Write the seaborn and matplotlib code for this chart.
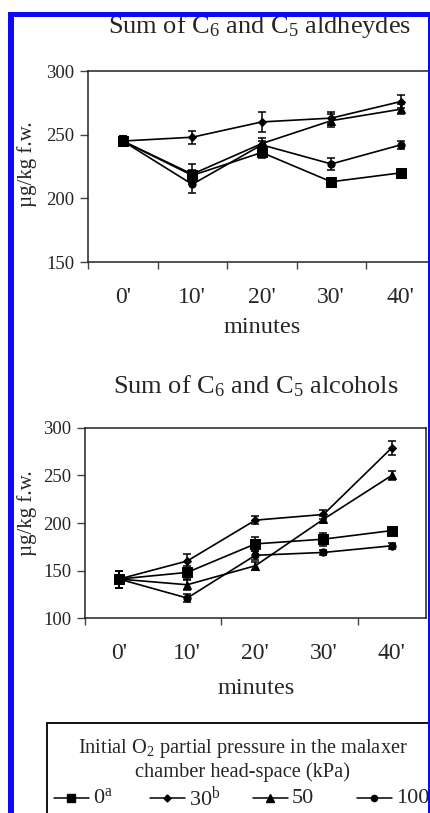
import numpy as np
import pandas as pd
import matplotlib
matplotlib.use("Agg")
import matplotlib.pyplot as plt
from matplotlib.patches import Rectangle
from matplotlib.lines import Line2D
import seaborn as sns

# ---------------- data ----------------
minutes = ["0'", "10'", "20'", "30'", "40'"]
series = ["0", "30", "50", "100"]
series_labels = [r"0$^{\rm a}$", r"30$^{\rm b}$", "50", "100"]

ald_0 = [245, 218, 236, 213, 220]
ald_30 = [245, 248, 260, 263, 276]
ald_50 = [245, 219, 243, 261, 270]
ald_100 = [245, 211, 242, 227, 242]
ald_err_0 = [4, 4, 4, 2, 3]
ald_err_30 = [4, 5, 8, 5, 5]
ald_err_50 = [4, 8, 4, 5, 4]
ald_err_100 = [4, 7, 3, 5, 3]

alc_0 = [141, 148, 178, 183, 192]
alc_30 = [141, 160, 203, 209, 279]
alc_50 = [141, 135, 155, 204, 250]
alc_100 = [141, 121, 166, 169, 176]
alc_err_0 = [9, 7, 7, 7, 3]
alc_err_30 = [9, 7, 4, 5, 7]
alc_err_50 = [9, 5, 4, 3, 5]
alc_err_100 = [9, 4, 5, 3, 3]

ald_vals = [ald_0, ald_30, ald_50, ald_100]
ald_errs = [ald_err_0, ald_err_30, ald_err_50, ald_err_100]
alc_vals = [alc_0, alc_30, alc_50, alc_100]
alc_errs = [alc_err_0, alc_err_30, alc_err_50, alc_err_100]

# ---------------- style ----------------
sns.set_theme(style="white")
plt.rcParams['font.family'] = ['Liberation Serif', 'DejaVu Serif']
plt.rcParams['mathtext.fontset'] = 'custom'
plt.rcParams['mathtext.rm'] = 'Liberation Serif'
plt.rcParams['mathtext.it'] = 'Liberation Serif:italic'
plt.rcParams['mathtext.bf'] = 'Liberation Serif:bold'

markers = {"0": "s", "30": "D", "50": "^", "100": "o"}
msizes = {"0": 7.0, "30": 4.2, "50": 6.2, "100": 5.2}

W, H = 431, 813
fig = plt.figure(figsize=(W / 100, H / 100), dpi=100)


def fx(px):
    return px / W


def fy(py):
    return 1 - py / H


def make_df(vals):
    rows = []
    for s, v in zip(series, vals):
        for i, val in enumerate(v):
            rows.append({"x": i, "val": val, "series": s})
    return pd.DataFrame(rows)


def draw(ax, vals, errs):
    df = make_df(vals)
    sns.lineplot(data=df, x="x", y="val", style="series", style_order=series,
                 markers=markers, dashes=False, color="black", linewidth=1.2,
                 ax=ax, legend=False, markeredgecolor="black")
    for line, s in zip(ax.lines, series):
        line.set_markersize(msizes[s])
        line.set_markerfacecolor("black")
    for v, e in zip(vals, errs):
        ax.errorbar(range(len(v)), v, yerr=e, fmt="none", ecolor="black",
                    elinewidth=1.1, capsize=3.2, capthick=1.1)


# ---------------- top axes ----------------
ax1 = fig.add_axes([fx(88), fy(262), 347.5 / W, 191 / H])
ax1.set_facecolor("none")
draw(ax1, ald_vals, ald_errs)
ax1.set_xlim(-0.5, 4.5)
ax1.set_ylim(150, 300)
ax1.set_yticks([150, 200, 250, 300])
ax1.set_xticks(range(5))
ax1.set_xticklabels(minutes, fontsize=17)
ax1.set_xticks(np.arange(-0.5, 5, 1.0), minor=True)
ax1.spines['right'].set_visible(False)

# ---------------- bottom axes ----------------
ax2 = fig.add_axes([fx(85), fy(618), 340.7 / W, 190 / H])
ax2.set_facecolor("none")
draw(ax2, alc_vals, alc_errs)
ax2.set_xlim(-0.5, 4.5)
ax2.set_ylim(100, 300)
ax2.set_yticks([100, 150, 200, 250, 300])
ax2.set_xticks(range(5))
ax2.set_xticklabels(minutes, fontsize=17)
ax2.set_xticks([-0.5, 1.5, 3.5], minor=True)

for ax in (ax1, ax2):
    ax.set_xlabel("")
    ax.set_ylabel("")
    for sp in ax.spines.values():
        sp.set_color("#222222")
        sp.set_linewidth(1.1)
    ax.tick_params(axis="x", which="major", length=0, pad=18)
    ax.tick_params(axis="x", which="minor", length=5, width=1, color="#444444",
                   direction="out", bottom=True)
    ax.tick_params(axis="y", which="major", length=6, width=1, color="#444444",
                   direction="out", left=True, labelsize=13.5, pad=4)
    ax.grid(False)

# ---------------- texts ----------------
fig.text(fx(260), fy(33), r"Sum of C$_6$ and C$_5$ aldheydes", ha="center",
         va="baseline", fontsize=19)
fig.text(fx(256), fy(393), r"Sum of C$_6$ and C$_5$ alcohols", ha="center",
         va="baseline", fontsize=19)
fig.text(fx(262), fy(327), "minutes", ha="center", va="center", fontsize=17.5)
fig.text(fx(256), fy(689), "minutes", ha="center", va="center", fontsize=17.5)
fig.text(fx(27), fy(164), "µg/kg f.w.", rotation=90, ha="center", va="center",
         fontsize=15)
fig.text(fx(27), fy(513), "µg/kg f.w.", rotation=90, ha="center", va="center",
         fontsize=15)

# ---------------- legend ----------------
fig.patches.append(Rectangle((fx(47), -0.02), fx(440) - fx(47), fy(723) + 0.02,
                             transform=fig.transFigure, facecolor="white",
                             edgecolor="black", linewidth=1.3, zorder=5))
fig.text(fx(243), fy(748), r"Initial O$_2$ partial pressure in the malaxer",
         ha="center", va="center", fontsize=14.7, zorder=6)
fig.text(fx(243), fy(772), "chamber head-space (kPa)", ha="center",
         va="center", fontsize=14.7, zorder=6)
handles = [Line2D([0], [0], color="black", lw=1.0, marker=markers[s],
                  markersize=msizes[s] * 0.85, markerfacecolor="black",
                  markeredgecolor="black") for s in series]
leg_x = [54, 150, 253, 357]
for h, lab, x0 in zip(handles, series_labels, leg_x):
    fig.lines.append(Line2D([fx(x0), fx(x0 + 35)], [fy(798), fy(798)],
                            transform=fig.transFigure, color="black", lw=1.1,
                            zorder=6))
    fig.lines.append(Line2D([fx(x0 + 17)], [fy(798)], transform=fig.transFigure,
                            marker=h.get_marker(), markersize=h.get_markersize(),
                            color="black", zorder=6))
    fig.text(fx(x0 + 39), fy(798), lab, ha="left", va="center", fontsize=16,
             zorder=6)

# ---------------- blue frame ----------------
blue = "#0a0af5"
for (x0, y0, x1, y1) in [(8, 12, 14, 813), (8, 12, 431, 17), (428, 12, 431, 813)]:
    fig.patches.append(Rectangle((fx(x0), fy(y1)), fx(x1) - fx(x0),
                                 fy(y0) - fy(y1), transform=fig.transFigure,
                                 facecolor=blue, edgecolor="none", zorder=10))

fig.savefig("out.png", dpi=100)
